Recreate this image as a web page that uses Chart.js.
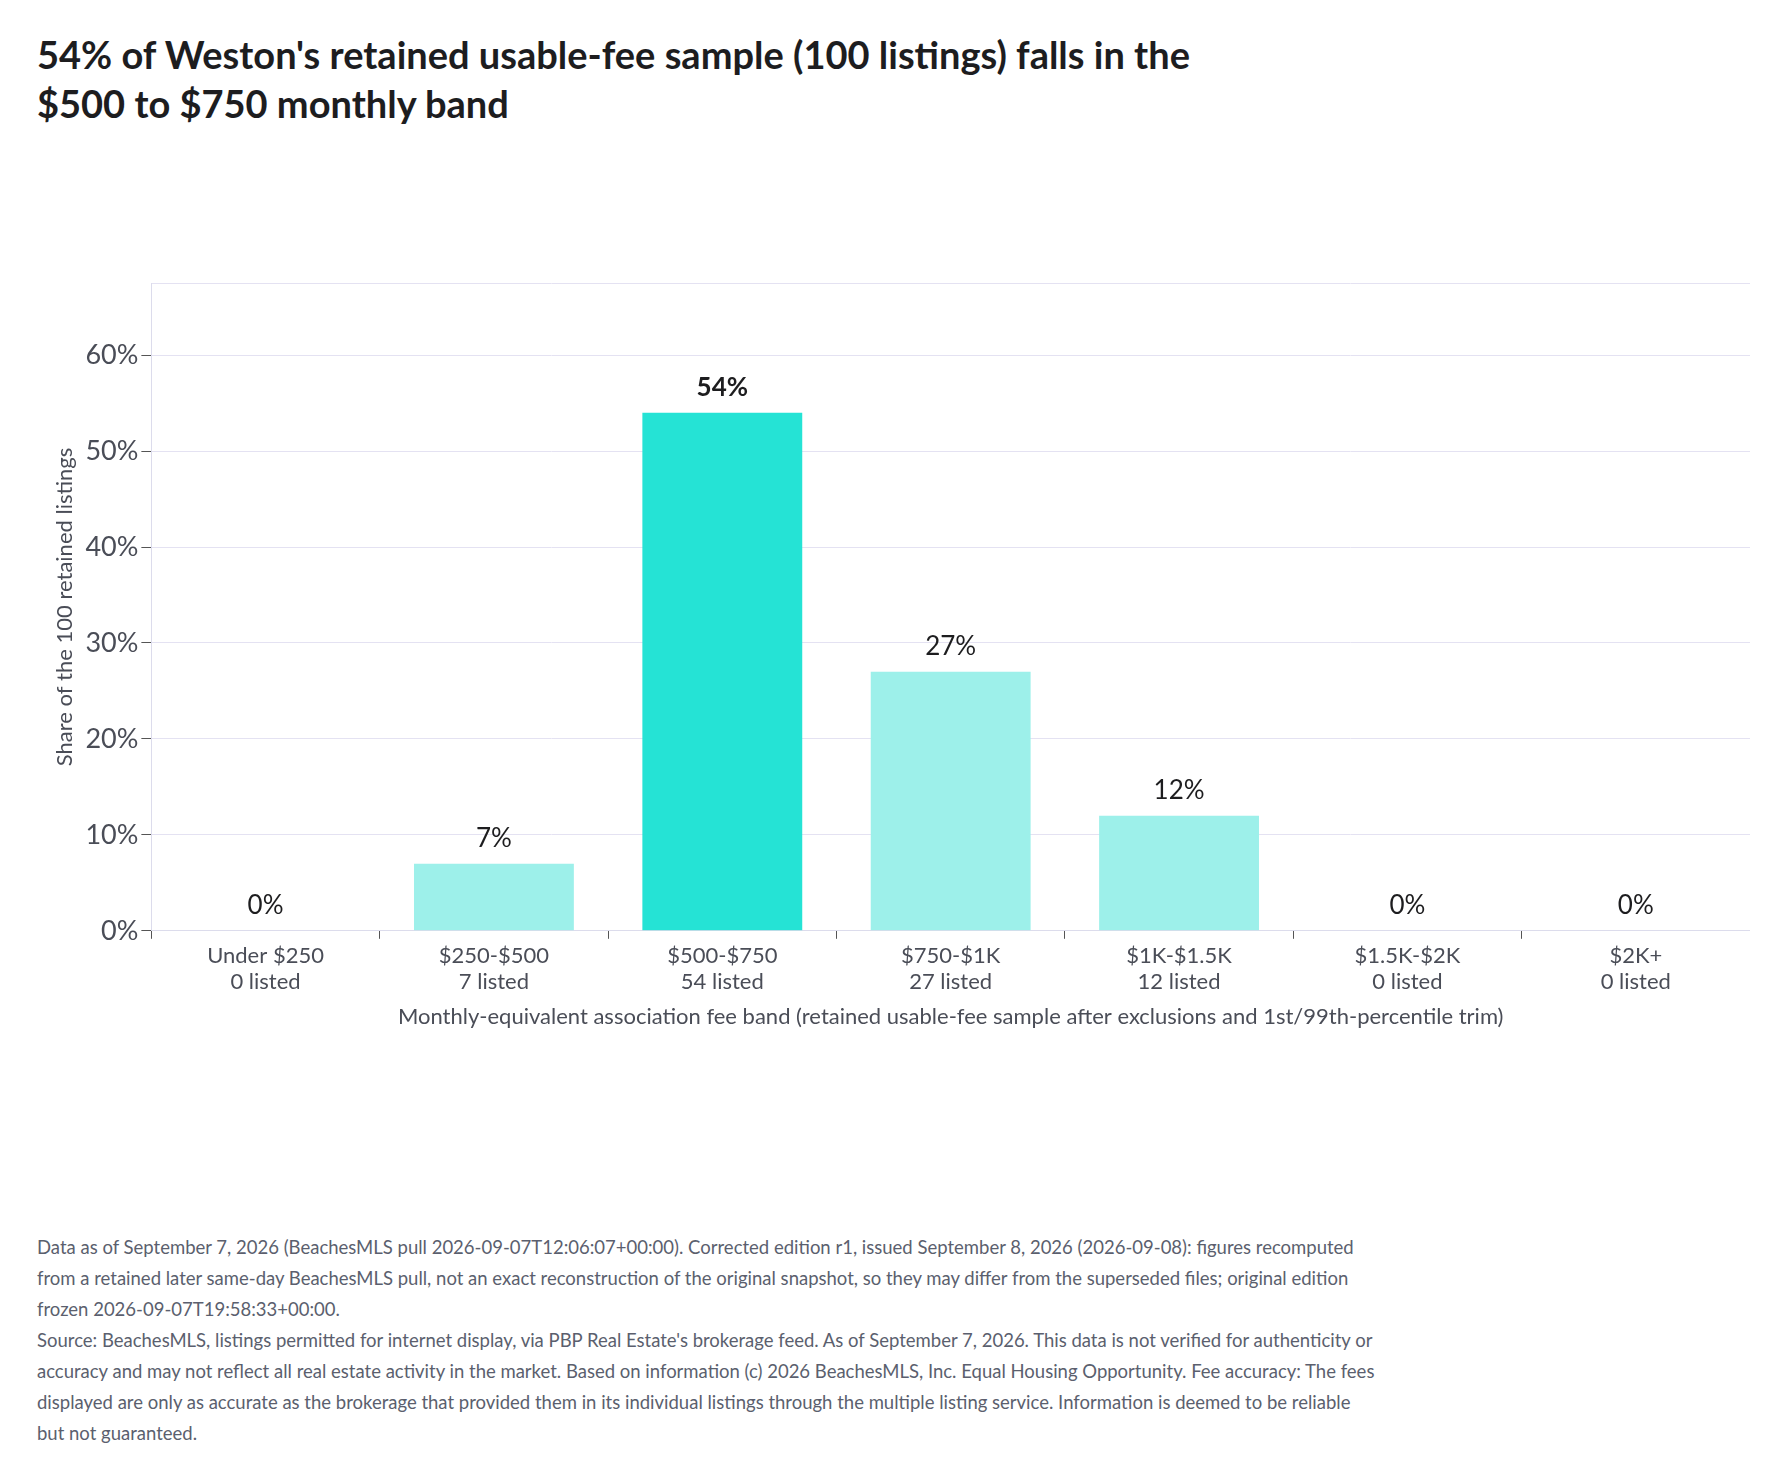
<!DOCTYPE html>
<html><head><meta charset="utf-8">
<script src="https://cdn.jsdelivr.net/npm/chart.js@4"></script>
<style>
body{margin:0;background:#fff;font-family:Lato,"Noto Sans",sans-serif;width:1782px;height:1477px;position:relative;overflow:hidden}
h1{position:absolute;left:37px;top:30px;margin:0;font-size:38px;line-height:49px;font-weight:700;color:#1d1d1f;width:1180px}
#wrap{position:absolute;left:30px;top:264px;width:1720px;height:810px}
#foot{position:absolute;left:37px;top:1232px;width:1345px;font-size:18.5px;line-height:31px;color:#5b5f6e}
</style></head><body>
<h1>54% of Weston's retained usable-fee sample (100 listings) falls in the $500 to $750 monthly band</h1>
<div id="wrap"><canvas id="c"></canvas></div>
<div id="foot">Data as of September 7, 2026 (BeachesMLS pull 2026-09-07T12:06:07+00:00). Corrected edition r1, issued September 8, 2026 (2026-09-08): figures recomputed from a retained later same-day BeachesMLS pull, not an exact reconstruction of the original snapshot, so they may differ from the superseded files; original edition frozen 2026-09-07T19:58:33+00:00.<br>Source: BeachesMLS, listings permitted for internet display, via PBP Real Estate's brokerage feed. As of September 7, 2026. This data is not verified for authenticity or accuracy and may not reflect all real estate activity in the market. Based on information (c) 2026 BeachesMLS, Inc. Equal Housing Opportunity. Fee accuracy: The fees displayed are only as accurate as the brokerage that provided them in its individual listings through the multiple listing service. Information is deemed to be reliable but not guaranteed.</div>
<script>
const bands = ["Under $250","$250-$500","$500-$750","$750-$1K","$1K-$1.5K","$1.5K-$2K","$2K+"];
const counts = [0,7,54,27,12,0,0];
const shares = [0,7,54,27,12,0,0];
const highlight = 2;

const labelPlugin = {
  id:"vals",
  afterDatasetsDraw(chart){
    const ctx = chart.ctx;
    chart.getDatasetMeta(0).data.forEach((bar,i)=>{
      ctx.save();
      ctx.font = (i===highlight?"700 ":"400 ")+"26px Lato";
      ctx.fillStyle = "#1d1d1f";
      ctx.textAlign = "center";
      ctx.textBaseline = "bottom";
      ctx.fillText(shares[i]+"%", bar.x, bar.y-12);
      ctx.restore();
    });
  }
};

new Chart(document.getElementById("c"),{
  type:"bar",
  data:{
    labels:bands.map((b,i)=>[b, counts[i]+" listed"]),
    datasets:[{
      data:shares,
      backgroundColor:shares.map((v,i)=>i===highlight?"#25e3d5":"#9df0ea"),
      categoryPercentage:1,
      barPercentage:0.7
    }]
  },
  options:{
    responsive:true,maintainAspectRatio:false,animation:false,
    layout:{padding:{left:18,right:0,bottom:40}},
    plugins:{legend:{display:false},tooltip:{enabled:false}},
    scales:{
      x:{
        grid:{display:true,drawOnChartArea:false,tickColor:"#555",tickLength:8},
        border:{color:"#dcdcec"},
        ticks:{color:"#4a4d57",font:{family:"Lato",size:22},padding:4},
        title:{display:true,text:"Monthly-equivalent association fee band (retained usable-fee sample after exclusions and 1st/99th-percentile trim)",color:"#4a4d57",font:{family:"Lato",size:22},padding:{top:4}}
      },
      y:{
        min:0,max:67.5,
        grid:{color:"#e4e2f2",tickColor:ctx=>ctx.tick && ctx.tick.value%10===0?"#555":"rgba(0,0,0,0)",tickLength:10},
        border:{color:"#dcdcec"},
        ticks:{stepSize:10,color:"#4a4d57",font:{family:"Lato",size:27},callback:v=>v%10===0?v+"%":""},
        title:{display:true,text:"Share of the 100 retained listings",color:"#4a4d57",font:{family:"Lato",size:22}}
      }
    }
  },
  plugins:[labelPlugin]
});
</script>
</body></html>
